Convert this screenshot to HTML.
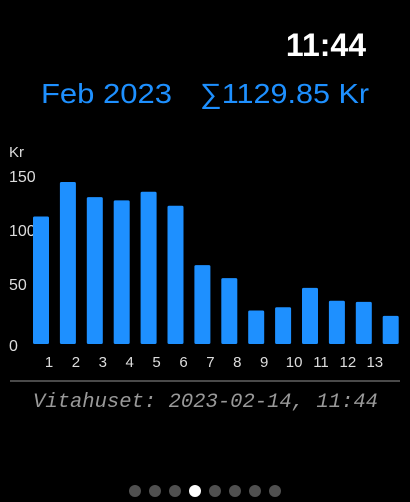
<!DOCTYPE html>
<html><head><meta charset="utf-8"><style>
html,body{margin:0;padding:0;background:#000;width:410px;height:502px;overflow:hidden;font-family:"Liberation Sans",sans-serif}
</style></head><body>
<svg width="410" height="502" viewBox="0 0 410 502">
<text x="366" y="56" text-anchor="end" fill="#fff" font-size="32" font-weight="bold" font-family="Liberation Sans, sans-serif">11:44</text>
<text x="41" y="103" fill="#1e90ff" font-size="28" textLength="131" lengthAdjust="spacingAndGlyphs" font-family="Liberation Sans, sans-serif">Feb 2023</text>
<text x="200" y="103" fill="#1e90ff" font-size="28" textLength="169" lengthAdjust="spacingAndGlyphs" font-family="Liberation Sans, sans-serif">∑1129.85 Kr</text>
<text x="9" y="157" fill="#ddd" font-size="15">Kr</text>
<g id="ticks"></g>
<g id="chart"></g>
<line x1="10" y1="381" x2="400" y2="381" stroke="#4a4a4a" stroke-width="2"/>
<text x="33" y="407" fill="#999" font-size="20" textLength="345" lengthAdjust="spacingAndGlyphs" font-style="italic" font-family="Liberation Mono, monospace">Vitahuset: 2023-02-14, 11:44</text>
<g id="dots"></g>
</svg>
<script>
const values=[118,150,136,133,141,128,73,61,31,34,52,40,39,26];
const yTicks=[0,50,100,150];
const xLabels=["1","2","3","4","5","6","7","8","9","10","11","12","13"];
const NS="http://www.w3.org/2000/svg";
const g=document.getElementById('chart');
const tk=document.getElementById('ticks');
const y0=344, k=1.08;
function yS(v){return y0-v*k;}
function xS(i){return 33+i*26.9;}
yTicks.forEach(t=>{
 const tx=document.createElementNS(NS,'text');
 tx.setAttribute('x',9);tx.setAttribute('y',yS(t)+ (t==0?7:0));
 tx.setAttribute('fill','#ddd');tx.setAttribute('font-size','16');
 tx.textContent=t;
 
 
 tk.appendChild(tx);
});
values.forEach((v,i)=>{
 const r=document.createElementNS(NS,'rect');
 r.setAttribute('x',xS(i));r.setAttribute('y',yS(v));
 r.setAttribute('width',16);r.setAttribute('height',v*k);
 r.setAttribute('rx',1.5);r.setAttribute('fill','#1e90ff');
 
 
 g.appendChild(r);
});
xLabels.forEach((l,i)=>{
 const tx=document.createElementNS(NS,'text');
 const adj=i>=9?3:0;
 tx.setAttribute('x',xS(i)+16+adj);tx.setAttribute('y',367);
 tx.setAttribute('text-anchor','middle');
 tx.setAttribute('fill','#ddd');tx.setAttribute('font-size','15');
 tx.textContent=l;
 
 
 tk.appendChild(tx);
});
const d=document.getElementById('dots');
for(let i=0;i<8;i++){
 const c=document.createElementNS(NS,'circle');
 c.setAttribute('cx',135+i*20);c.setAttribute('cy',491);c.setAttribute('r',6);
 c.setAttribute('fill',i==3?'#fff':'#505050');
 
 
 d.appendChild(c);
}
</script>
</body></html>
